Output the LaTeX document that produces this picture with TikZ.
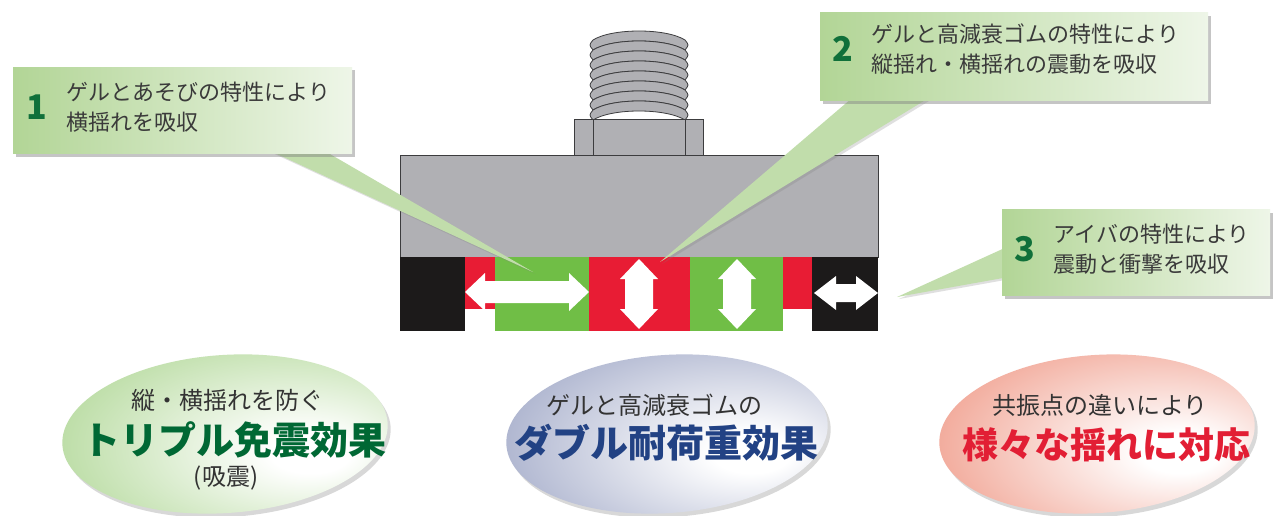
\documentclass[tikz,border=0pt]{standalone}
\usepackage{fontspec}
\newfontfamily\jp{Noto Sans CJK JP}
\usetikzlibrary{positioning}
\usetikzlibrary{shapes.geometric}
\usetikzlibrary{shadows}

\definecolor{callgreen}{RGB}{178,213,150}
\definecolor{numgreen}{RGB}{16,112,58}
\definecolor{textgray}{RGB}{58,58,58}
\definecolor{plategray}{RGB}{176,176,180}
\definecolor{linegray}{RGB}{60,60,62}
\definecolor{padred}{RGB}{232,28,52}
\definecolor{padgreen}{RGB}{112,190,70}
\definecolor{padblack}{RGB}{28,26,26}
\definecolor{ovalgreen}{RGB}{158,206,126}
\definecolor{ovalblue}{RGB}{138,148,186}
\definecolor{ovalred}{RGB}{236,132,110}
\definecolor{titlegreen}{RGB}{0,104,52}
\definecolor{titleblue}{RGB}{34,66,132}
\definecolor{titlered}{RGB}{226,30,52}

% soft highlight a little right of the centre
\pgfdeclareradialshading{glowgreen}{\pgfpoint{14bp}{-6bp}}{color(0bp)=(white); color(6bp)=(white); color(46bp)=(ovalgreen); color(80bp)=(ovalgreen)}
\pgfdeclareradialshading{glowblue}{\pgfpoint{14bp}{-6bp}}{color(0bp)=(white); color(6bp)=(white); color(46bp)=(ovalblue); color(80bp)=(ovalblue)}
\pgfdeclareradialshading{glowred}{\pgfpoint{14bp}{-6bp}}{color(0bp)=(white); color(6bp)=(white); color(46bp)=(ovalred); color(80bp)=(ovalred)}

\pgfdeclarelayer{front}
\pgfsetlayers{main,front}

\tikzset{
    steel/.style     = {fill=plategray, draw=linegray, line width=1pt},
    callbox/.style   = {rectangle, inner sep=0pt, left color=callgreen, right color=callgreen!22,
                        drop shadow={shadow xshift=3pt, shadow yshift=-3pt, opacity=.45}},
    calltail/.style  = {fill=callgreen!80, drop shadow={shadow xshift=2pt, shadow yshift=-2pt, opacity=.25}},
    callnum/.style   = {inner sep=0pt, text=numgreen, font=\jp\bfseries\fontsize{34}{34}\selectfont},
    calltext/.style  = {inner sep=0pt, align=left, text=textgray, font=\jp\fontsize{22}{30}\selectfont},
    oval/.style      = {ellipse, inner sep=0pt, rotate=4, shade,
                        drop shadow={shadow xshift=3pt, shadow yshift=-4pt, opacity=.3}},
    ovalsmall/.style = {inner sep=0pt, text=black!80, font=\jp\fontsize{24}{24}\selectfont},
    ovalbig/.style   = {inner sep=0pt, font=\jp\bfseries\fontsize{38}{38}\selectfont},
}

\begin{document}
\begin{tikzpicture}[x=1pt, y=-1pt]
    \fill[white] (0,0) rectangle (1281,516);
    \useasboundingbox (0,0) rectangle (1281,516);

    % threaded stud and nut
    \foreach \y in {40,50,...,110}
        \draw[steel, line width=0.8pt] (593,\y) .. controls (612,\y-12) and (666,\y-12) .. (685,\y)
            .. controls (689,\y+5) .. (685,\y+10)
            .. controls (666,\y-2) and (612,\y-2) .. (593,\y+10)
            .. controls (589,\y+5) .. (593,\y) -- cycle;
    \draw[steel] (574,120) rectangle (703,155);
    \draw[linegray, line width=1pt] (593,120) -- (593,155) (685,120) -- (685,155);

    % base plate
    \draw[steel] (400,155) rectangle (878,257);

    % pads: ibar / gel / rubber
    \fill[padblack] (400,257) rectangle (465,331);
    \fill[padred]   (465,257) rectangle (495,309);
    \fill[padgreen] (495,257) rectangle (589,331);
    \fill[padred]   (589,257) rectangle (690,331);
    \fill[padgreen] (690,257) rectangle (783,331);
    \fill[padred]   (783,257) rectangle (812,309);
    \fill[padblack] (812,257) rectangle (878,331);

    % movement arrows
    \fill[white] (465,292) -- (485,273) -- (485,281) -- (569,281) -- (569,273) -- (589,292)
        -- (569,311) -- (569,303) -- (485,303) -- (485,311) -- cycle;
    \fill[white] (814,293) -- (836,276) -- (836,284) -- (856,284) -- (856,276) -- (878,293)
        -- (856,310) -- (856,302) -- (836,302) -- (836,310) -- cycle;
    \foreach \x in {639,737}
        \fill[white] (\x,259) -- (\x+19,279) -- (\x+14,279) -- (\x+14,309) -- (\x+19,309) -- (\x,329)
            -- (\x-19,309) -- (\x-14,309) -- (\x-14,279) -- (\x-19,279) -- cycle;

    % callout boxes
    \begin{pgfonlayer}{front}
        \node[callbox, minimum width=339pt, minimum height=86pt] (box1) at (182.5,110.5) {};
        \node[callnum] (num1) at ([xshift=24pt, yshift=3pt]box1.west) {1};
        \node[calltext, right=19pt of num1] (text1) {ゲルとあそびの特性により\\横揺れを吸収};

        \node[callbox, minimum width=388pt, minimum height=88pt] (box2) at (1014,57) {};
        \node[callnum] (num2) at ([xshift=23pt, yshift=8pt]box2.west) {2};
        \node[calltext, right=18pt of num2] (text2) {ゲルと高減衰ゴムの特性により\\縦揺れ・横揺れの震動を吸収};

        \node[callbox, minimum width=268pt, minimum height=86pt] (box3) at (1136,252.5) {};
        \node[callnum] (num3) at ([xshift=23pt, yshift=3pt]box3.west) {3};
        \node[calltext, right=18pt of num3] (text3) {アイバの特性により\\震動と衝撃を吸収};
    \end{pgfonlayer}

    % tails
    \coordinate (tip1) at (533,272);
    \coordinate (tip2) at (660,262);
    \coordinate (tip3) at (897,297);
    \fill[calltail] ([xshift=85pt, yshift=4pt]box1.south) -- ([xshift=140pt, yshift=4pt]box1.south) -- (tip1) -- cycle;
    \fill[calltail] ([xshift=-161pt, yshift=4pt]box2.south) -- ([xshift=-84pt, yshift=4pt]box2.south) -- (tip2) -- cycle;
    \fill[calltail] ([xshift=4pt, yshift=5pt]box3.west) -- ([xshift=4pt, yshift=-25pt]box3.west) -- (tip3) -- cycle;

    % ovals
    \node[oval, shading=glowgreen, minimum width=326pt, minimum height=158pt] (oval1) at (225,434) {};
    \node[oval, shading=glowblue,  minimum width=322pt, minimum height=158pt] (oval2) at (667,434) {};
    \node[oval, shading=glowred,   minimum width=316pt, minimum height=158pt] (oval3) at (1097,434) {};

    \node[ovalsmall] (lead1) at (227,400) {縦・横揺れを防ぐ};
    \node[ovalbig, text=titlegreen] (title1) at (234,440) {トリプル免震効果};
    \node[ovalsmall] (note1) at (226,478) {(吸震)};

    \node[ovalsmall] (lead2) at (654,405) {ゲルと高減衰ゴムの};
    \node[ovalbig, text=titleblue] (title2) at (666,443) {ダブル耐荷重効果};

    \node[ovalsmall] (lead3) at (1100,405) {共振点の違いにより};
    \node[ovalbig, text=titlered, font=\jp\bfseries\fontsize{36}{36}\selectfont] (title3) at (1106,445) {様々な揺れに対応};
\end{tikzpicture}
\end{document}
